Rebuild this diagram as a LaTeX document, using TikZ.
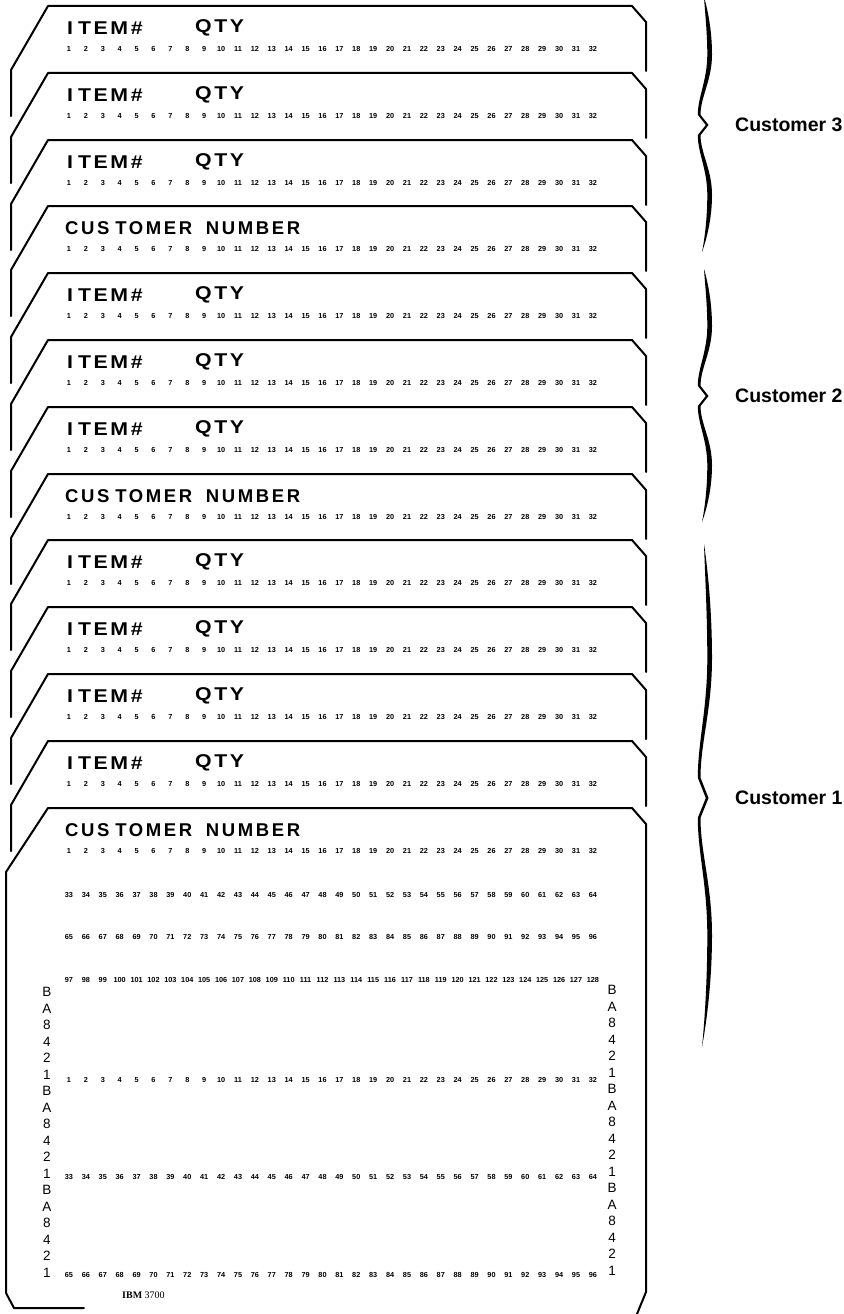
\documentclass[tikz,border=0pt]{standalone}
\usepackage{fontspec}
\setmainfont{Liberation Sans}
\newfontfamily\itemfont{Liberation Sans}[LetterSpace=14,FakeStretch=1.15]
\newfontfamily\custfont{Liberation Sans}[LetterSpace=14]
\newfontfamily\ibmfont{Liberation Serif}
\tikzset{
  card/.style={line width=2pt, line join=round, line cap=round},
  itemhead/.style={font=\itemfont\bfseries\fontsize{18.5}{19}\selectfont, inner sep=0pt, anchor=west},
  custhead/.style={font=\custfont\bfseries\fontsize{18.5}{19}\selectfont, inner sep=0pt, anchor=west},
  num/.style={font=\bfseries\fontsize{7.3}{8}\selectfont, inner sep=0pt},
  zone/.style={font=\fontsize{13.5}{14}\selectfont, inner sep=0pt},
  lbl/.style={font=\bfseries\fontsize{19.5}{20}\selectfont, inner sep=0pt, anchor=west},
  ibm/.style={font=\ibmfont\fontsize{10}{10}\selectfont, inner sep=0pt, anchor=west},
}
\newcommand{\custbrace}[3]{%
  \pgfmathsetmacro{\bya}{#1}\pgfmathsetmacro{\bym}{#2}\pgfmathsetmacro{\byb}{#3}%
  \pgfmathsetmacro{\bha}{\bym-\bya}\pgfmathsetmacro{\bhb}{\byb-\bym}%
  \fill (704,\bya)
   .. controls (708.5,\bya+0.12*\bha) and (712,\bya+0.28*\bha) .. (712,\bya+0.45*\bha)
   .. controls (712,\bya+0.65*\bha) and (700.5,\bym-0.22*\bha) .. (700.5,\bym-0.08*\bha)
   -- (708.5,\bym) -- (700.5,\bym+0.08*\bhb)
   .. controls (700.5,\bym+0.22*\bhb) and (712,\bym+0.35*\bhb) .. (712,\bym+0.55*\bhb)
   .. controls (712,\bym+0.72*\bhb) and (707.5,\byb-0.12*\bhb) .. (702,\byb)
   .. controls (705,\byb-0.12*\bhb) and (707.3,\bym+0.72*\bhb) .. (707.3,\bym+0.55*\bhb)
   .. controls (707.3,\bym+0.35*\bhb) and (697.8,\bym+0.22*\bhb) .. (697.8,\bym+0.08*\bhb)
   -- (705.8,\bym) -- (697.8,\bym-0.08*\bha)
   .. controls (697.8,\bym-0.22*\bha) and (707.3,\bya+0.65*\bha) .. (707.3,\bya+0.45*\bha)
   .. controls (707.3,\bya+0.28*\bha) and (705,\bya+0.12*\bha) .. (704,\bya) -- cycle;
}
\begin{document}
\begin{tikzpicture}[x=1pt,y=-1pt]
\useasboundingbox (0,0) rectangle (843,1314);
% stacked cards (back to front)
\foreach \ci/\tp/\kd in {0/6/0,1/73/0,2/140/0,3/206/1,4/273/0,5/340/0,6/407/0,7/474/1,8/540/0,9/607/0,10/674/0,11/741/0}{
  \draw[card] (11,\tp+110) -- (11,\tp+64) -- (48,\tp) -- (632,\tp) -- (646,\tp+16) -- (646,\tp+65);
  \ifnum\kd=0
    \node[itemhead] (item\ci) at (67,\tp+22) {I\kern5pt TEM\#};
    \node[itemhead] (qty\ci) at (195,\tp+22) {QTY};
  \else
    \node[custhead] (cust\ci) at (65,\tp+22) {CUS\kern6pt TOMER\hspace{6pt} NUMBER};
  \fi
  \foreach \k in {1,...,32}
    \node[num] (n\ci-\k) at ({69+16.9*(\k-1)},\tp+43) {\k};
}
% front card
\draw[card] (84,1308) -- (14,1308) -- (6,1293) -- (6,872) -- (48,808) -- (632,808) -- (646,824) -- (646,1292) -- (637,1314);
\node[custhead] (cust12) at (65,830) {CUS\kern6pt TOMER\hspace{6pt} NUMBER};
\foreach \r/\yy/\s in {1/851/1,2/895/33,3/937/65,4/980/97,5/1080/1,6/1177/33,7/1275/65}{
  \foreach \k in {0,...,31}{
    \pgfmathtruncatemacro{\vv}{\s+\k}
    \node[num] (m\r-\k) at ({69+16.9*\k},\yy) {\vv};
  }
}
\foreach \j/\ch in {0/B,1/A,2/8,3/4,4/2,5/1,6/B,7/A,8/8,9/4,10/2,11/1,12/B,13/A,14/8,15/4,16/2,17/1}{
  \node[zone] (zl\j) at (47,992+16.5*\j) {\ch};
  \node[zone] (zr\j) at (612,990+16.5*\j) {\ch};
}
\node[ibm] (ibm) at (122,1295) {{\bfseries IBM} 3700};
% braces and labels
\custbrace{-3}{125}{252}
\custbrace{269}{396}{522}
\custbrace{544}{798}{1047}
\node[lbl] (c3) at (735,125) {Customer 3};
\node[lbl] (c2) at (735,396) {Customer 2};
\node[lbl] (c1) at (735,798) {Customer 1};
\end{tikzpicture}
\end{document}
